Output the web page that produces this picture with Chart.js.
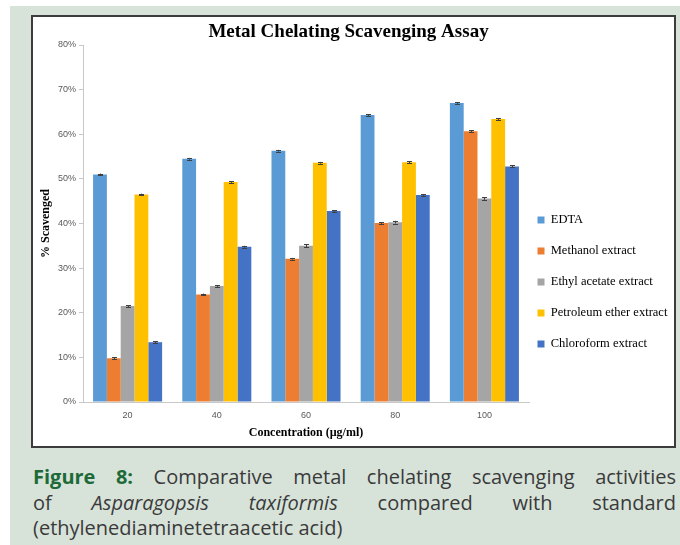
<!DOCTYPE html>
<html>
<head>
<meta charset="utf-8">
<script src="https://cdn.jsdelivr.net/npm/chart.js@4.4.1/dist/chart.umd.min.js"></script>
<style>
  html, body { margin: 0; padding: 0; background: #ffffff; }
  body { width: 680px; height: 545px; position: relative; overflow: hidden; }
  #panel { position: absolute; left: 10px; top: 6px; right: 0; bottom: 0; background: #d7e3d9; }
  #box { position: absolute; left: 31px; top: 15px; width: 645px; height: 433px; box-sizing: border-box;
         border: 2px solid #3c3c3c; background: #ffffff; }
  #box canvas { display: block; }
  #caption { position: absolute; left: 33px; width: 643px; top: 464px; font-family: "Open Sans", Roboto, sans-serif;
             font-size: 20px; color: #3a3a3a; line-height: 25.5px; }
  #caption .j { text-align: justify; text-align-last: justify; }
  #caption b { color: #1d6a38; }
</style>
</head>
<body>
<div id="panel"></div>
<div id="box"><canvas id="c" width="641" height="429"></canvas></div>
<div id="caption">
  <div class="j"><b>Figure 8:</b> Comparative metal chelating scavenging activities</div>
  <div class="j">of <i>Asparagopsis taxiformis</i> compared with standard</div>
  <div>(ethylenediaminetetraacetic acid)</div>
</div>
<script>
const categories = ['20', '40', '60', '80', '100'];
const edta        = [51.0, 54.5, 56.3, 64.3, 67.0];
const methanol    = [9.8, 24.1, 32.1, 40.1, 60.7];
const ethylAcetate= [21.5, 26.0, 35.0, 40.3, 45.6];
const petroleum   = [46.5, 49.3, 53.6, 53.7, 63.4];
const chloroform  = [13.4, 34.8, 42.8, 46.4, 52.8];
const errEdta       = [0.2, 0.2, 0.2, 0.2, 0.2];
const errMethanol   = [0.2, 0.2, 0.2, 0.2, 0.2];
const errEthyl      = [0.2, 0.2, 0.3, 0.3, 0.3];
const errPetroleum  = [0.2, 0.2, 0.2, 0.2, 0.2];
const errChloroform = [0.2, 0.2, 0.2, 0.2, 0.2];
const seriesNames = ['EDTA', 'Methanol extract', 'Ethyl acetate extract', 'Petroleum ether extract', 'Chloroform extract'];
const yTicks = [0, 10, 20, 30, 40, 50, 60, 70, 80];

const colors = ['#5b9bd5', '#ed7d31', '#a5a5a5', '#ffc000', '#4472c4'];
const values = [edta, methanol, ethylAcetate, petroleum, chloroform];
const errors = [errEdta, errMethanol, errEthyl, errPetroleum, errChloroform];

const errorBars = {
  id: 'errorBars',
  afterDatasetsDraw(chart) {
    const ctx = chart.ctx, ys = chart.scales.y;
    ctx.save();
    ctx.strokeStyle = '#404040';
    ctx.lineWidth = 1;
    chart.data.datasets.forEach((ds, i) => {
      const meta = chart.getDatasetMeta(i);
      meta.data.forEach((bar, j) => {
        const v = ds.data[j], e = ds.errors[j];
        const top = ys.getPixelForValue(v + e), bot = ys.getPixelForValue(v - e);
        const x = Math.round(bar.x) + 0.5;
        ctx.beginPath();
        ctx.moveTo(x, top); ctx.lineTo(x, bot);
        ctx.moveTo(x - 2.5, Math.round(top) + 0.5); ctx.lineTo(x + 2.5, Math.round(top) + 0.5);
        ctx.moveTo(x - 2.5, Math.round(bot) + 0.5); ctx.lineTo(x + 2.5, Math.round(bot) + 0.5);
        ctx.stroke();
      });
    });
    ctx.restore();
  }
};

function shiftDraw(el, dx) {
  const d = el.draw;
  el.draw = function (...a) { const l = this.left; this.left = l + dx; d.apply(this, a); this.left = l; };
}

const boxTweaks = {
  id: 'boxTweaks',
  afterInit(chart) {
    const lg = chart.legend;
    if (lg) {
      const f = lg.fit;
      lg.fit = function () { f.call(this); this.width = 145; };
      shiftDraw(lg, -10);
    }
    if (chart.titleBlock) shiftDraw(chart.titleBlock, -10);
  }
};

new Chart(document.getElementById('c'), {
  type: 'bar',
  data: {
    labels: categories,
    datasets: values.map((d, i) => ({
      label: seriesNames[i],
      data: d,
      errors: errors[i],
      backgroundColor: colors[i],
      borderWidth: 0,
      categoryPercentage: 0.774,
      barPercentage: 1.0
    }))
  },
  options: {
    responsive: false,
    animation: false,
    devicePixelRatio: 1,
    layout: { padding: 0 },
    plugins: {
      tooltip: { enabled: false },
      title: {
        display: true,
        text: 'Metal Chelating Scavenging Assay',
        color: '#000000',
        font: { family: '"Liberation Serif", "Times New Roman", serif', size: 19, weight: 'bold' },
        padding: { top: 3.6, bottom: 1.6 }
      },
      legend: {
        position: 'right',
        align: 'center',
        title: { display: true, text: ' ', padding: { top: 0, bottom: 89 }, font: { size: 10 } },
        labels: {
          boxWidth: 7, boxHeight: 7, padding: 18.5,
          color: '#000000',
          font: { family: '"Liberation Serif", "Times New Roman", serif', size: 12.5 }
        }
      }
    },
    scales: {
      x: {
        afterFit(s) { s.height = 44; },
        grid: { display: true, drawOnChartArea: false, drawTicks: false, color: '#d0d0d0' },
        border: { color: '#c8c8c8' },
        ticks: { color: '#595959', padding: 8, font: { family: '"Liberation Sans", Arial, sans-serif', size: 9 } },
        title: {
          display: true, text: 'Concentration (µg/ml)', color: '#000000',
          font: { family: '"Liberation Serif", "Times New Roman", serif', size: 12, weight: 'bold' },
          padding: { top: 0, bottom: 6 }
        }
      },
      y: {
        min: 0, max: 80,
        afterFit(s) { s.width = 50; },
        afterBuildTicks(s) { s.ticks = yTicks.map(v => ({ value: v })); },
        grid: { display: true, drawOnChartArea: false, drawTicks: true, tickLength: 4, color: '#c8c8c8' },
        border: { color: '#c8c8c8' },
        ticks: { color: '#595959', padding: 3, callback: v => v + '%', font: { family: '"Liberation Sans", Arial, sans-serif', size: 9 } },
        title: {
          display: true, text: '% Scavenged', color: '#000000',
          font: { family: '"Liberation Serif", "Times New Roman", serif', size: 12, weight: 'bold' },
          padding: { top: 6, bottom: 0 }
        }
      }
    }
  },
  plugins: [errorBars, boxTweaks]
});
</script>
</body>
</html>
